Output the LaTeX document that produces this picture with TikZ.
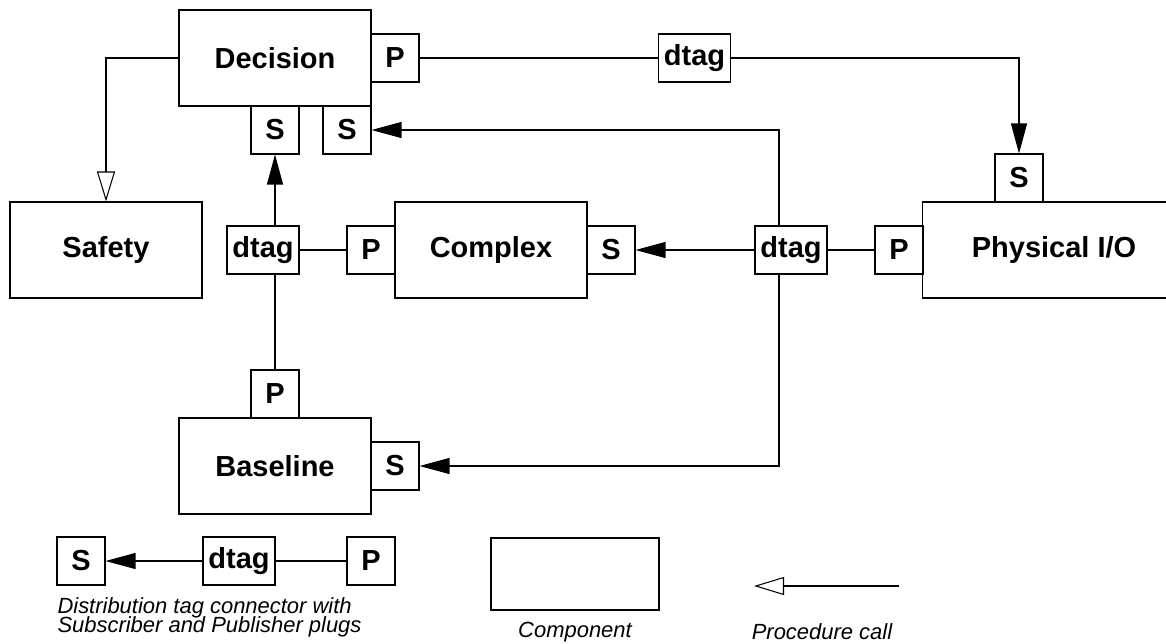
\documentclass[tikz,border=0pt]{standalone}
\usepackage{fontspec}
\setmainfont{Liberation Sans}
\usetikzlibrary{arrows.meta}
\newcommand{\tightlines}{\lineskiplimit=-20pt\relax}
\tikzset{
  comp/.style={draw, line width=0.6pt, inner sep=0pt, minimum width=3.84cm, minimum height=1.92cm,
    font=\fontsize{16.5pt}{18pt}\selectfont\bfseries},
  plug/.style={draw, line width=0.6pt, inner sep=0pt, minimum size=0.96cm,
    font=\fontsize{16.5pt}{18pt}\selectfont\bfseries},
  dtag/.style={plug, minimum width=1.44cm},
  note/.style={inner sep=0pt, font=\fontsize{12.5pt}{11pt}\selectfont\itshape\tightlines},
  sub/.style={-{Triangle[length=0.6cm,width=0.32cm]}},
  call/.style={-{Triangle[open,length=0.6cm,width=0.36cm]}},
}
\begin{document}
\begin{tikzpicture}[x=0.02cm,y=-0.02cm,line width=0.6pt]
  \useasboundingbox (0,0) rectangle (1166,643);
  \clip (0,0) rectangle (1166,643);
  % components
  \node[comp] (decision) at (275,58) {Decision};
  \node[comp] (safety) at (106,250) {Safety};
  \node[comp] (complex) at (491,250) {Complex};
  \node[comp, minimum width=5.28cm] (physio) at (1054,250) {Physical I/O};
  \node[comp] (baseline) at (275,466) {Baseline};
  % plugs
  \node[plug] (pDec) at (395,58) {P};
  \node[plug] (sDecA) at (275,130) {S};
  \node[plug] (sDecB) at (347,130) {S};
  \node[plug] (pComp) at (371,250) {P};
  \node[plug] (sComp) at (611,250) {S};
  \node[plug] (sPhys) at (1019,178) {S};
  \node[plug] (pPhys) at (899,250) {P};
  \node[plug] (pBase) at (275,394) {P};
  \node[plug] (sBase) at (395,466) {S};
  % distribution tags
  \node[dtag] (tagTop) at (694.5,58) {dtag};
  \node[dtag] (tagLeft) at (263,250) {dtag};
  \node[dtag] (tagRight) at (791,250) {dtag};
  % connectors
  \draw[call] (decision.west) -| (safety.north);
  \draw (pDec) -- (tagTop);
  \draw[sub] (tagTop) -| (sPhys.north);
  \draw[sub] (tagLeft.north -| sDecA) -- (sDecA);
  \draw (tagLeft.south -| pBase) -- (pBase);
  \draw (tagLeft) -- (pComp);
  \draw[sub] (tagRight) -- (sComp);
  \draw (tagRight) -- (pPhys);
  \draw[sub] ([xshift=-0.24cm]tagRight.north) |- (sDecB);
  \draw[sub] ([xshift=-0.24cm]tagRight.south) |- (sBase);
  % legend
  \node[plug] (sKey) at (81,561) {S};
  \node[dtag] (tagKey) at (239,561) {dtag};
  \node[plug] (pKey) at (371,561) {P};
  \draw[sub] (tagKey) -- (sKey);
  \draw (tagKey) -- (pKey);
  \node[note, anchor=north west, align=left] (keyTag) at (57,597)
    {Distribution tag connector with\\Subscriber and Publisher plugs};
  \node[draw, minimum width=3.36cm, minimum height=1.44cm] (compKey) at (575,574) {};
  \node[note] (compText) at (575,632) {Component};
  \coordinate (callFrom) at (899,586);
  \coordinate (callTo) at (754,586);
  \draw[call] (callFrom) -- (callTo);
  \node[note] (callText) at (822,632) {Procedure call};
\end{tikzpicture}
\end{document}
